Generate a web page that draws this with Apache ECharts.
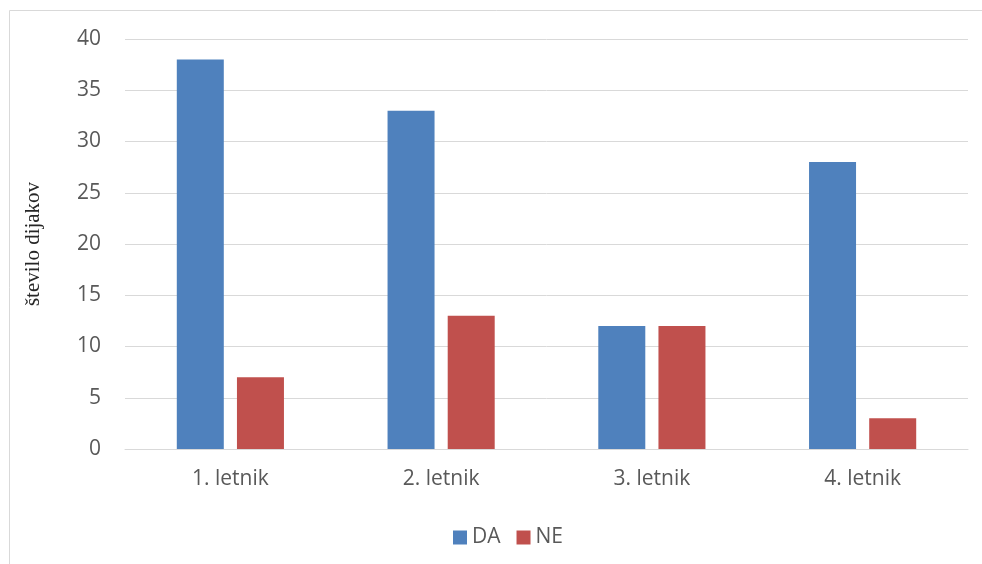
<!DOCTYPE html>
<html>
<head>
<meta charset="utf-8">
<script src="https://cdn.jsdelivr.net/npm/echarts@6/dist/echarts.min.js"></script>
<style>
  html, body { margin: 0; padding: 0; background: #fff; }
  #chart { width: 982px; height: 564px; }
</style>
</head>
<body>
<div id="chart"></div>
<script>
// podatki
var categories = ['1. letnik', '2. letnik', '3. letnik', '4. letnik']
var daValues = [38, 33, 12, 28]
var neValues = [7, 13, 12, 3]
var seriesNames = ['DA', 'NE']

var chartDom = echarts.init(document.getElementById('chart'))
chartDom.setOption({
  animation: false,
  color: ['#4F81BD', '#C0504D'],
  graphic: [{
    type: 'rect',
    shape: { x: 9.5, y: 10.5, width: 990, height: 600 },
    style: { fill: 'none', stroke: '#D9D9D9', lineWidth: 1 },
    silent: true
  }],
  grid: {
    left: 125,
    right: 14,
    top: 39,
    bottom: 115
  },
  legend: {
    data: seriesNames,
    top: 522,
    left: 448,
    itemWidth: 14,
    itemHeight: 14,
    itemGap: 16,
    icon: 'rect',
    textStyle: {
      color: '#595959',
      fontSize: 21,
      fontFamily: 'Open Sans'
    }
  },
  xAxis: {
    type: 'category',
    data: categories,
    axisLine: { lineStyle: { color: '#D9D9D9', width: 1 } },
    axisTick: { show: false },
    axisLabel: {
      color: '#595959',
      fontSize: 21,
      fontFamily: 'Open Sans',
      margin: 20
    }
  },
  yAxis: {
    type: 'value',
    min: 0,
    max: 40,
    interval: 5,
    name: 'število dijakov',
    nameLocation: 'middle',
    nameGap: 81,
    nameTextStyle: {
      color: '#262626',
      fontSize: 21,
      fontFamily: 'Liberation Serif'
    },
    axisLine: { show: false },
    axisTick: { show: false },
    splitLine: { lineStyle: { color: '#D9D9D9', width: 1 } },
    axisLabel: {
      color: '#595959',
      fontSize: 21,
      fontFamily: 'Open Sans',
      margin: 24
    }
  },
  series: [
    {
      name: seriesNames[0],
      type: 'bar',
      barWidth: 47,
      barGap: '28%',
      data: daValues
    },
    {
      name: seriesNames[1],
      type: 'bar',
      barWidth: 47,
      barGap: '28%',
      data: neValues
    }
  ]
})
</script>
</body>
</html>
